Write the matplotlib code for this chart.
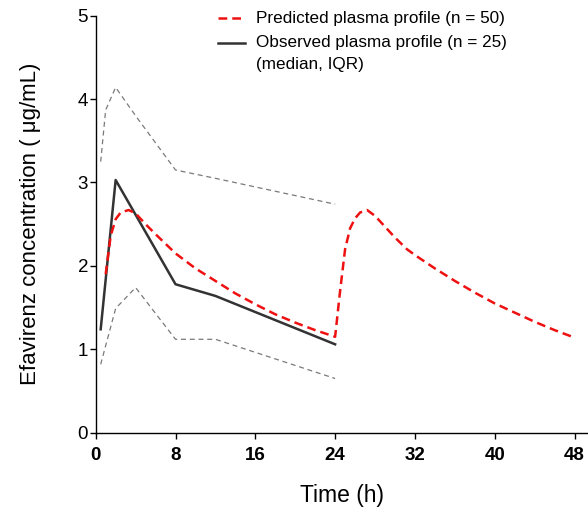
import matplotlib
matplotlib.use("Agg")
import matplotlib.pyplot as plt
from matplotlib.lines import Line2D

plt.rcParams["font.family"] = ["Liberation Sans", "DejaVu Sans"]

# observed median and IQR (n = 25)
obs_time = [0.5, 2, 8, 12, 24]
obs_median = [1.24, 3.03, 1.78, 1.64, 1.06]
iqr_time = [0.5, 1, 2, 4, 8, 12, 24]
iqr_upper = [3.25, 3.87, 4.14, 3.80, 3.15, 3.05, 2.74]
iqr_lower_time = [0.5, 2, 4, 8, 12, 24]
iqr_lower = [0.82, 1.49, 1.74, 1.12, 1.12, 0.65]

# predicted plasma profile (n = 50), two dosing intervals
pred_time = [1.0, 1.5, 2.0, 2.5, 3.3, 4, 5, 6, 8, 10, 12, 14, 16, 18, 20, 22, 24,
             24.5, 25, 25.5, 26, 26.5, 27.2, 28, 29, 30, 31.2, 32, 34, 36, 38,
             40, 42, 44, 46, 48]
pred_conc = [1.90, 2.36, 2.56, 2.64, 2.67, 2.63, 2.50, 2.38, 2.15, 1.97, 1.82,
             1.67, 1.54, 1.42, 1.32, 1.23, 1.15,
             1.70, 2.20, 2.45, 2.57, 2.64, 2.67, 2.60, 2.47, 2.34, 2.20, 2.13,
             1.97, 1.82, 1.68, 1.55, 1.44, 1.33, 1.23, 1.14]

x_ticks = [0, 8, 16, 24, 32, 40, 48]
y_ticks = [0, 1, 2, 3, 4, 5]

W, H = 588, 508
fig = plt.figure(figsize=(W / 100, H / 100), dpi=100)
ax = fig.add_axes([95.7 / W, 75.3 / H, (W - 95.7) / W, 417.0 / H])

ax.plot(iqr_time, iqr_upper, color="#7a7a7a", lw=0.9, dashes=(4, 3))
ax.plot(iqr_lower_time, iqr_lower, color="#7a7a7a", lw=0.9, dashes=(4, 3))
ax.plot(obs_time, obs_median, color="#333333", lw=1.8)
ax.plot(pred_time, pred_conc, color="#ee1111", lw=1.8, dashes=(3.5, 2))

ax.set_xlim(0, 49.35)
ax.set_ylim(0, 5)
ax.set_xticks(x_ticks)
ax.set_yticks(y_ticks)
for lab in ax.get_xticklabels():
    lab.set_fontweight("bold")
ax.tick_params(axis="x", labelsize=13.5, length=4, width=1, pad=6)
ax.tick_params(axis="y", labelsize=13.5, length=4.5, width=1, pad=1)
ax.spines["top"].set_visible(False)
ax.spines["right"].set_visible(False)
for s in ("left", "bottom"):
    ax.spines[s].set_linewidth(1)

ax.set_xlabel("Time (h)", fontsize=16.5, labelpad=15)
ax.set_ylabel("Efavirenz concentration ( \u03bcg/mL)", fontsize=16, labelpad=26)

# legend drawn by hand so the handle sits on the first text line
def fx(px):
    return px / W

def fy(py):
    return 1 - py / H

fig.add_artist(Line2D([fx(218), fx(245)], [fy(18), fy(18)], color="#ee1111",
                      lw=1.8, dashes=(3.5, 2)))
fig.add_artist(Line2D([fx(218), fx(245)], [fy(43), fy(43)], color="#333333", lw=1.8))
fig.text(fx(256), fy(18), "Predicted plasma profile (n = 50)", fontsize=12.3, va="center")
fig.text(fx(256), fy(43), "Observed plasma profile (n = 25)", fontsize=12.3, va="center")
fig.text(fx(256), fy(64), "(median, IQR)", fontsize=12.3, va="center")

fig.savefig("out.png", dpi=100)
